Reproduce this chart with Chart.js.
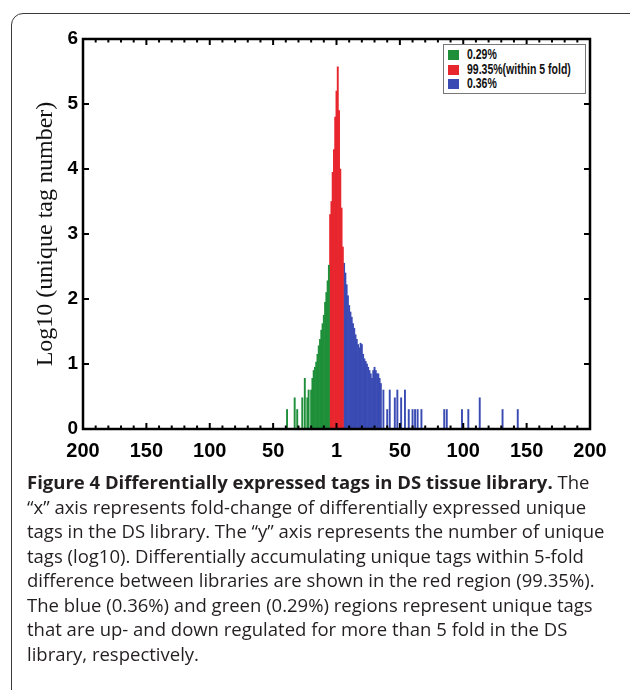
<!DOCTYPE html>
<html>
<head>
<meta charset="utf-8">
<script src="https://cdn.jsdelivr.net/npm/chart.js@4"></script>
<style>
  html, body { margin: 0; padding: 0; background: #fff; }
  body { width: 630px; height: 690px; position: relative; overflow: hidden; }
  #card {
    position: absolute; left: 11px; top: 13px; width: 660px; height: 720px;
    border: 1.5px solid #3a3a3a; border-radius: 12px; box-sizing: border-box;
  }
  #chart { position: absolute; left: 0; top: 0; }
  #legend {
    position: absolute; left: 443px; top: 44px; width: 143px; height: 50px;
    border: 1.5px solid #777; box-sizing: border-box; background: #fff;
    font-family: 'Liberation Sans', Arial, sans-serif;
    font-weight: bold; font-size: 14px; color: #111; padding-top: 2px;
  }
  #legend .row { height: 14.5px; line-height: 14.5px; white-space: nowrap; }
  #legend .sw { display: inline-block; width: 11px; height: 10px; margin: 0 8px 0 4px; vertical-align: -1px; }
  #legend .txt { display: inline-block; transform: scaleX(0.75); transform-origin: left center; }
  #caption {
    position: absolute; left: 27px; top: 470px;
    font-family: 'Open Sans', sans-serif; font-size: 18.5px; line-height: 24.5px;
    color: #231f20; white-space: nowrap;
  }
</style>
</head>
<body>
<div id="card"></div>
<canvas id="chart" width="630" height="470"></canvas>
<div id="legend"></div>
<div id="caption">
  <b>Figure 4 Differentially expressed tags in DS tissue library.</b> The<br>
  “x” axis represents fold-change of differentially expressed unique<br>
  tags in the DS library. The “y” axis represents the number of unique<br>
  tags (log10). Differentially accumulating unique tags within 5-fold<br>
  difference between libraries are shown in the red region (99.35%).<br>
  The blue (0.36%) and green (0.29%) regions represent unique tags<br>
  that are up- and down regulated for more than 5 fold in the DS<br>
  library, respectively.
</div>
<script>
/*
DATA
*/
// fold-change bins (left = down, right = up) and log10 of tag counts
const greenFold = [-39, -33, -31, -27, -25, -23, -22, -20, -19, -18, -17, -16, -15, -14, -13, -12, -11, -10, -9, -8, -7, -6];
const greenLog = [0.30, 0.48, 0.30, 0.48, 0.78, 0.48, 0.60, 0.60, 0.78, 0.90, 0.95, 1.03, 1.15, 1.28, 1.38, 1.52, 1.62, 1.75, 1.95, 2.10, 2.28, 2.52];

const redFold = [-5, -4, -3, -2, -1, 0, 1, 2, 3, 4, 5];
const redLog = [3.30, 3.50, 3.95, 4.30, 4.80, 5.20, 5.57, 4.90, 4.00, 3.40, 2.80];

const blueFold = [6, 7, 8, 9, 10, 11, 12, 13, 14, 15, 16, 17, 18, 19, 20, 21, 22, 23, 24, 25,
  26, 27, 28, 29, 30, 31, 32, 33, 34, 35,
  37, 40, 42, 46, 48, 51, 54, 57, 60, 62, 64, 67, 85, 87, 99, 104, 113, 131, 143];
const blueLog = [2.55, 2.40, 2.22, 2.05, 1.90, 1.80, 1.72, 1.62, 1.55, 1.45, 1.38, 1.30, 1.25, 1.32, 1.30, 1.15, 1.08, 1.04, 1.00, 0.95,
  0.90, 0.85, 0.78, 0.90, 0.95, 0.90, 0.85, 0.85, 0.78, 0.70,
  0.60, 0.30, 0.60, 0.48, 0.60, 0.48, 0.60, 0.30, 0.30, 0.30, 0.30, 0.30, 0.30, 0.30, 0.30, 0.30, 0.48, 0.30, 0.30];

const seriesLabels = ['0.29%', '99.35%(within 5 fold)', '0.36%'];
const seriesColors = ['#1f8f3a', '#e8262d', '#3a4bb4'];

const xTickValues = [-200, -150, -100, -50, 0, 50, 100, 150, 200];
const xTickLabels = ['200', '150', '100', '50', '1', '50', '100', '150', '200'];
const yTickValues = [0, 1, 2, 3, 4, 5, 6];

const SANS = "'Liberation Sans', Arial, sans-serif";

function toPoints(xs, ys) {
  return xs.map((x, i) => ({ x: x, y: ys[i] }));
}

function makeSet(i, xs, ys) {
  return {
    label: seriesLabels[i],
    data: toPoints(xs, ys),
    backgroundColor: seriesColors[i],
    borderWidth: 0,
    grouped: false,
    barPercentage: 1,
    categoryPercentage: 1
  };
}

// frame round the plot with inward ticks on all four sides
const framePlugin = {
  id: 'frame',
  afterDraw(chart) {
    const ctx = chart.ctx;
    const a = chart.chartArea;
    const xs = chart.scales.x;
    const ys = chart.scales.y;
    ctx.save();
    ctx.strokeStyle = '#000';
    ctx.lineWidth = 2;
    for (let v = -200; v <= 200; v += 10) {
      let px = xs.getPixelForValue(v);
      let len = v % 50 === 0 ? 6 : 3.5;
      ctx.beginPath();
      ctx.moveTo(px, a.bottom); ctx.lineTo(px, a.bottom - len);
      ctx.moveTo(px, a.top); ctx.lineTo(px, a.top + len);
      ctx.stroke();
    }
    for (let v of yTickValues) {
      let py = ys.getPixelForValue(v);
      ctx.beginPath();
      ctx.moveTo(a.left, py); ctx.lineTo(a.left + 6, py);
      ctx.moveTo(a.right, py); ctx.lineTo(a.right - 6, py);
      ctx.stroke();
    }
    ctx.lineWidth = 2.5;
    ctx.strokeRect(a.left, a.top, a.right - a.left, a.bottom - a.top);
    ctx.restore();
  }
};

let canvas = document.getElementById('chart');
let chart = new Chart(canvas, {
  type: 'bar',
  data: {
    datasets: [
      makeSet(0, greenFold, greenLog),
      makeSet(1, redFold, redLog),
      makeSet(2, blueFold, blueLog)
    ]
  },
  options: {
    responsive: false,
    animation: false,
    devicePixelRatio: 1,
    layout: { padding: { top: 39, right: 40, left: 0, bottom: 0 } },
    plugins: {
      legend: { display: false },
      tooltip: { enabled: false }
    },
    scales: {
      x: {
        type: 'linear',
        min: -200,
        max: 200,
        offset: false,
        grid: { display: false, drawTicks: false },
        border: { display: false },
        afterFit: (scale) => { scale.height = 41; },
        afterBuildTicks: (scale) => { scale.ticks = xTickValues.map(v => ({ value: v })); },
        ticks: {
          padding: 10,
          color: '#000',
          maxRotation: 0,
          autoSkip: false,
          font: { family: SANS, size: 20, weight: 'bold' },
          callback: (value, index) => xTickLabels[index]
        }
      },
      y: {
        min: 0,
        max: 6,
        grid: { display: false, drawTicks: false },
        border: { display: false },
        afterFit: (scale) => { scale.width = 83; },
        ticks: {
          stepSize: 1,
          padding: 5,
          color: '#000',
          font: { family: SANS, size: 19, weight: 'bold' }
        },
        title: {
          display: true,
          text: 'Log10 (unique tag number)',
          color: '#111',
          padding: { top: 31, bottom: 0 },
          font: { family: "'Liberation Serif', 'Times New Roman', serif", size: 24 }
        }
      }
    }
  },
  plugins: [framePlugin]
});

// legend box inside the plot, built from the datasets
let legendDiv = document.getElementById('legend');
for (let ds of chart.data.datasets) {
  let row = document.createElement('div');
  row.className = 'row';
  let sw = document.createElement('span');
  sw.className = 'sw';
  sw.style.background = ds.backgroundColor;
  let txt = document.createElement('span');
  txt.className = 'txt';
  txt.textContent = ds.label;
  row.append(sw);
  row.append(txt);
  legendDiv.append(row);
}
</script>
</body>
</html>
